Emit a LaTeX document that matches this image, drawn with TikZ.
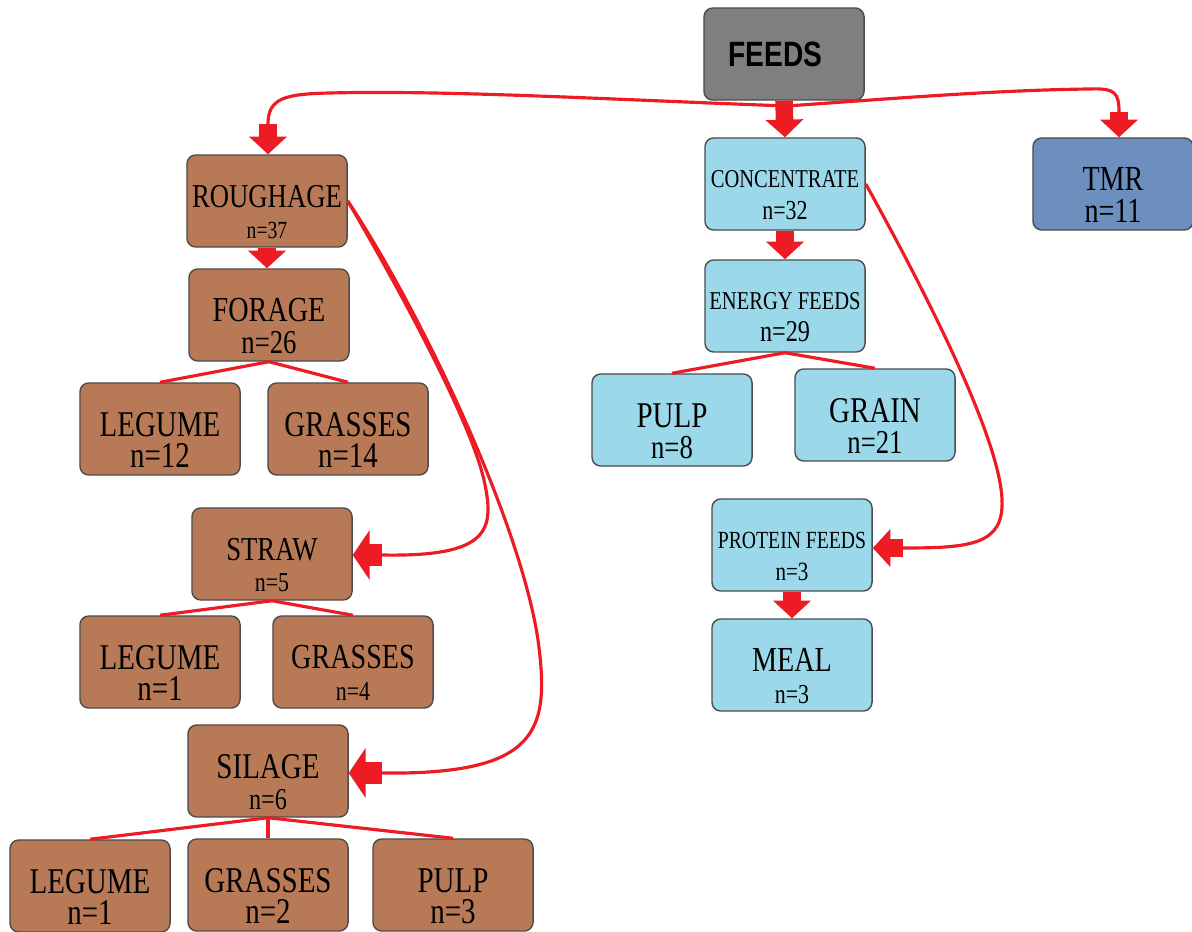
\documentclass[tikz,border=0pt]{standalone}
\usepackage{fontspec}
\newfontfamily\boxfont{Liberation Serif}[FakeStretch=0.8]
\newfontfamily\headfont{Liberation Sans}[FakeStretch=0.8]
\usetikzlibrary{arrows.meta}
\definecolor{soil}{HTML}{B87A56}
\definecolor{sky}{HTML}{9BD9EA}
\definecolor{steel}{HTML}{6D8FBE}
\definecolor{slate}{HTML}{7F7F7F}
\definecolor{linkred}{HTML}{ED1C24}
\newcommand{\twoline}[4]{{\fontsize{#1}{9}\selectfont\rule{0pt}{\dimexpr\fontcharht\font`H+6.4pt\relax}#2}\\{\fontsize{#3}{9}\selectfont #4}}
\begin{document}
\begin{tikzpicture}[
				x=0.01cm,
				y=-0.01cm,
				box/.style={draw=black!70, line width=0.4pt, rounded corners=2.5pt, minimum width=1.6cm, minimum height=0.92cm, inner sep=0.5pt, align=center, font=\boxfont\fontsize{10}{9}\selectfont},
				roughbox/.style={box, fill=soil},
				concbox/.style={box, fill=sky},
				link/.style={draw=linkred, line width=0.9pt},
				fat/.style={draw=linkred, line width=5pt, -{Triangle[width=10.5pt,length=5pt]}},
				fatter/.style={draw=linkred, line width=6.3pt, -{Triangle[width=14pt,length=4.8pt]}},
				]
				\useasboundingbox (0,0) rectangle (1192,931);
				\node[box, fill=slate, font=\headfont\bfseries\fontsize{10}{10}\selectfont] (feeds) at (784,54) {FEEDS\hspace{5pt}};
				\node[roughbox] (rough) at (267,201) {\twoline{9.5}{ROUGHAGE}{7}{n=37}};
				\node[concbox] (conc) at (785,184) {\twoline{7.3}{CONCENTRATE}{7.8}{n=32}};
				\node[box, fill=steel] (tmr) at (1113,184) {\twoline{10}{TMR}{10}{n=11}};
				\node[roughbox] (forage) at (269,315) {\twoline{10}{FORAGE}{9.5}{n=26}};
				\node[roughbox] (legA) at (160,429) {\twoline{10.3}{LEGUME}{10.3}{n=12}};
				\node[roughbox] (grassA) at (348,429) {\twoline{10.3}{GRASSES}{10.3}{n=14}};
				\node[roughbox] (straw) at (272,554) {\twoline{9.5}{STRAW}{7.8}{n=5}};
				\node[roughbox] (legB) at (160,662) {\twoline{10.3}{LEGUME}{10.3}{n=1}};
				\node[roughbox] (grassB) at (353,662) {\twoline{10}{GRASSES}{7.8}{n=4}};
				\node[roughbox] (silage) at (268,771) {\twoline{10.3}{SILAGE}{8.6}{n=6}};
				\node[roughbox] (legC) at (90,886) {\twoline{10.3}{LEGUME}{10.3}{n=1}};
				\node[roughbox] (grassC) at (268,885) {\twoline{10.3}{GRASSES}{10.3}{n=2}};
				\node[roughbox] (pulpC) at (453,885) {\twoline{10.3}{PULP}{10.3}{n=3}};
				\node[concbox] (energy) at (785,306) {\twoline{7.3}{ENERGY FEEDS}{8.6}{n=29}};
				\node[concbox] (pulp) at (672,420) {\twoline{10.3}{PULP}{9.5}{n=8}};
				\node[concbox] (grain) at (875,415) {\twoline{10.3}{GRAIN}{9.5}{n=21}};
				\node[concbox] (protein) at (792,545) {\twoline{7}{PROTEIN FEEDS}{7.5}{n=3}};
				\node[concbox] (meal) at (792,665) {\twoline{10}{MEAL}{7.8}{n=3}};
				\coordinate (fork) at (787,106);
				\draw[link] (fork) .. controls (620,100) and (450,90) .. (330,93) .. controls (285,94) and (268,98) .. (268,124) coordinate (roughtop);
				\draw[fat] (roughtop) -- (roughtop |- rough.north);
				\draw[link] (fork) .. controls (900,98) and (1000,90) .. (1090,89) .. controls (1115,88) and (1119,93) .. (1119,112) coordinate (tmrtop);
				\draw[fat] (tmrtop) -- (tmrtop |- tmr.north);
				\draw[fat] (feeds.south) -- (conc.north);
				\draw[fat] (rough.south) -- (rough.south |- forage.north);
				\draw[link] (forage.south) -- (legA.north);
				\draw[link] (forage.south) -- (grassA.north);
				\draw[link] (rough.east) .. controls (400,290) and (470,420) .. (484,480) .. controls (495,530) and (490,557) .. (382,555) coordinate (strawin);
				\draw[fatter] (strawin) -- (strawin -| straw.east);
				\draw[link] (rough.east) .. controls (420,310) and (520,520) .. (538,640) .. controls (550,730) and (540,775) .. (382,773) coordinate (silagein);
				\draw[fatter] (silagein) -- (silagein -| silage.east);
				\draw[link] (straw.south) -- (legB.north);
				\draw[link] (straw.south) -- (grassB.north);
				\draw[link] (silage.south) -- (legC.north);
				\draw[link] (silage.south) -- (grassC.north);
				\draw[link] (silage.south) -- (pulpC.north);
				\draw[fat] (conc.south) -- (energy.north);
				\draw[link] (energy.south) -- (pulp.north);
				\draw[link] (energy.south) -- (grain.north);
				\draw[link] (conc.east) .. controls (930,300) and (1000,440) .. (1002,500) .. controls (1004,545) and (970,548) .. (903,548) coordinate (protin);
				\draw[fat] (protin) -- (protin -| protein.east);
				\draw[fat] (protein.south) -- (meal.north);
\end{tikzpicture}
\end{document}
